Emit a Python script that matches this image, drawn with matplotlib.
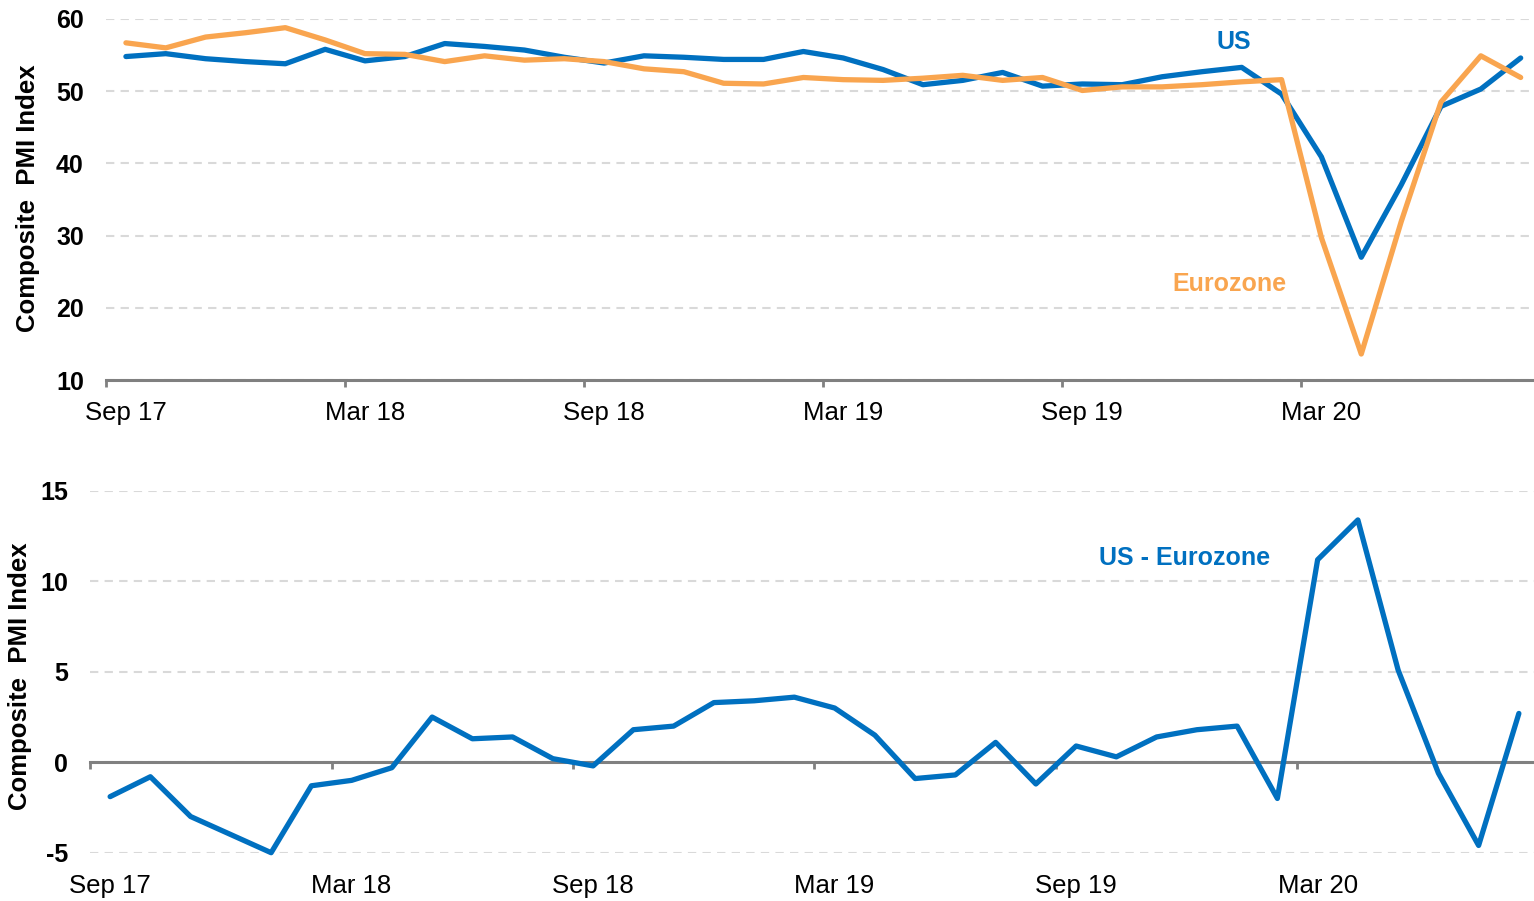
import matplotlib
matplotlib.use("Agg")
import matplotlib.pyplot as plt
import numpy as np

# Composite PMI, monthly Sep 2017 .. Aug 2020
us_pmi = [54.8, 55.2, 54.5, 54.1, 53.8, 55.8, 54.2, 54.8, 56.6, 56.2, 55.7, 54.7,
          53.9, 54.9, 54.7, 54.4, 54.4, 55.5, 54.6, 53.0, 50.9, 51.5, 52.6, 50.7,
          51.0, 50.9, 52.0, 52.7, 53.3, 49.6, 40.9, 27.0, 37.0, 47.9, 50.3, 54.6]
ez_pmi = [56.7, 56.0, 57.5, 58.1, 58.8, 57.1, 55.2, 55.1, 54.1, 54.9, 54.3, 54.5,
          54.1, 53.1, 52.7, 51.1, 51.0, 51.9, 51.6, 51.5, 51.8, 52.2, 51.5, 51.9,
          50.1, 50.6, 50.6, 50.9, 51.3, 51.6, 29.7, 13.6, 31.9, 48.5, 54.9, 51.9]
us_minus_ez = [-1.9, -0.8, -3.0, -4.0, -5.0, -1.3, -1.0, -0.3, 2.5, 1.3, 1.4, 0.2,
               -0.2, 1.8, 2.0, 3.3, 3.4, 3.6, 3.0, 1.5, -0.9, -0.7, 1.1, -1.2,
               0.9, 0.3, 1.4, 1.8, 2.0, -2.0, 11.2, 13.4, 5.1, -0.6, -4.6, 2.7]
tick_labels = ["Sep 17", "Mar 18", "Sep 18", "Mar 19", "Sep 19", "Mar 20"]

BLUE = "#0070C0"
ORANGE = "#F9A54F"
AXIS_GRAY = "#808080"
GRID_GRAY = "#D9D9D9"
FONT = "Liberation Sans"

plt.rcParams["font.family"] = [FONT, "DejaVu Sans"]

W, H = 1534, 901
x = np.arange(len(us_pmi))
label_pos = np.arange(0, len(us_pmi), 6)
boundaries = np.arange(-0.5, len(us_pmi) + 0.5, 6)

fig = plt.figure(figsize=(W / 100, H / 100), dpi=100)
ax1 = fig.add_axes([106 / W, (H - 380) / H, 1434.6 / W, 361 / H])
ax2 = fig.add_axes([90 / W, (H - 852.7) / H, 1449 / W, 361.7 / H])


def style_axes(ax, yticks):
    ax.set_xlim(-0.5, len(us_pmi) - 0.5)
    ax.set_ylim(yticks[0], yticks[-1])
    for s in ["top", "right", "left"]:
        ax.spines[s].set_visible(False)
    ax.spines["bottom"].set_color(AXIS_GRAY)
    ax.spines["bottom"].set_linewidth(2.2)
    ax.set_yticks(yticks, labels=[str(v) for v in yticks], fontweight="bold")
    ax.tick_params(axis="y", length=0, pad=16, labelsize=18)
    ax.grid(axis="y", color=GRID_GRAY, linewidth=1.5, linestyle=(0, (4, 3)))
    ax.set_axisbelow(True)
    ax.set_xticks(boundaries)
    ax.tick_params(axis="x", which="major", length=5, width=2, color=AXIS_GRAY)


# top panel: levels
style_axes(ax1, list(range(10, 61, 10)))
ax1.set_xticks(label_pos, tick_labels, minor=True)
ax1.tick_params(axis="x", which="major", labelbottom=False)
ax1.tick_params(axis="x", which="minor", length=0, pad=15, labelsize=18.5)
ax1.plot(x, us_pmi, color=BLUE, lw=3.8, zorder=3, solid_joinstyle="round", solid_capstyle="round")
ax1.plot(x, ez_pmi, color=ORANGE, lw=3.8, zorder=4, solid_joinstyle="round", solid_capstyle="round")
ax1.text(27.8, 56.8, "US", color=BLUE, fontsize=18, fontweight="bold", ha="center", va="center")
ax1.text(27.7, 23.3, "Eurozone", color=ORANGE, fontsize=18, fontweight="bold", ha="center", va="center")

# bottom panel: spread
style_axes(ax2, [-5, 0, 5, 10, 15])
ax2.spines["bottom"].set_position(("data", 0))
ax2.tick_params(axis="x", which="major", labelbottom=False)
sec = ax2.secondary_xaxis("bottom")
sec.set_xticks(label_pos, tick_labels)
sec.tick_params(length=0, pad=15, labelsize=18.5)
sec.spines["bottom"].set_visible(False)
ax2.plot(x, us_minus_ez, color=BLUE, lw=3.8, zorder=3, clip_on=False,
         solid_joinstyle="round", solid_capstyle="round")
ax2.text(26.7, 11.3, "US - Eurozone", color=BLUE, fontsize=18, fontweight="bold", ha="center", va="center")

# y-axis titles
fig.text(28 / W, 1 - 198 / H, "Composite  PMI Index", rotation=90, ha="center", va="center",
         fontsize=18.5, fontweight="bold")
fig.text(20 / W, 1 - 676 / H, "Composite  PMI Index", rotation=90, ha="center", va="center",
         fontsize=18.5, fontweight="bold")

fig.savefig("out.png", dpi=100, facecolor="white")
